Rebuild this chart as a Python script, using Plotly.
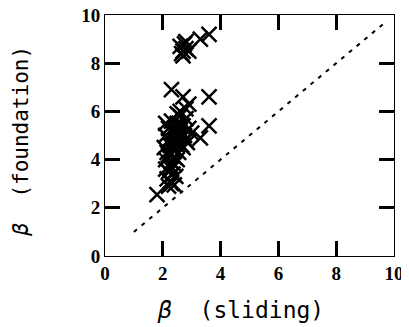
import plotly.graph_objects as go

# beta values
beta_sliding = [
    1.8,
    2.3, 2.7, 2.9, 2.8, 3.6, 3.6, 3.3,
    2.6, 2.7, 2.8, 2.65, 2.75, 2.9, 3.3, 3.6, 2.8, 2.7,
    2.1, 2.2, 2.3, 2.4, 2.5, 2.6, 2.7, 2.8, 2.9,
    2.1, 2.2, 2.35, 2.5, 2.6, 2.75, 2.85, 3.0,
    2.05, 2.15, 2.3, 2.45, 2.55, 2.7, 2.8,
    2.1, 2.2, 2.3, 2.4, 2.55, 2.65,
    2.1, 2.2, 2.3, 2.4, 2.5,
    2.15, 2.25, 2.35, 2.45,
    2.2, 2.3, 2.4, 2.3,
    2.5, 2.6, 2.7, 2.45, 2.55, 2.65, 2.35, 2.25, 2.6, 2.5,
]
beta_foundation = [
    2.55,
    6.9, 6.6, 6.3, 6.1, 6.6, 5.4, 4.9,
    8.7, 8.5, 8.6, 8.4, 8.8, 8.5, 9.0, 9.2, 8.9, 8.3,
    5.5, 5.3, 5.6, 5.2, 5.5, 5.8, 5.4, 5.7, 5.3,
    5.0, 4.8, 5.1, 4.9, 5.2, 5.0, 4.7, 5.1,
    4.5, 4.3, 4.6, 4.4, 4.7, 4.5, 4.8,
    4.0, 4.2, 3.9, 4.1, 4.3, 4.6,
    3.6, 3.5, 3.7, 3.8, 4.0,
    3.2, 3.1, 3.4, 3.3,
    2.9, 3.0, 2.95, 3.6,
    4.6, 4.9, 5.0, 5.3, 5.1, 5.4, 4.4, 4.6, 6.0, 5.9,
]
ref_x = [1, 9.7]
ref_y = [1, 9.7]
tick_vals = [0, 2, 4, 6, 8, 10]
x_title = "<i>β</i>  (sliding)"
y_title = "<i>β</i>  (foundation)"

fig = go.Figure()
fig.add_trace(go.Scatter(
    x=ref_x, y=ref_y, mode="lines",
    line=dict(color="black", width=2, dash="4px,6px"),
    showlegend=False, hoverinfo="skip",
))
fig.add_trace(go.Scatter(
    x=beta_sliding, y=beta_foundation, mode="markers",
    marker=dict(symbol="x-thin-open", size=15, color="black",
                line=dict(color="black", width=2.5)),
    showlegend=False,
))

tick_font = dict(family="Liberation Serif", size=19, color="black", weight="bold")
axis_common = dict(
    range=[0, 10], tickvals=tick_vals,
    ticks="inside", ticklen=15, tickwidth=3, tickcolor="black",
    showline=True, linecolor="black", mirror="allticks",
    gridcolor="white", zerolinecolor="white", automargin=False,
    ticklabeloverflow="allow", tickfont=tick_font,
)
# page body has an 8px margin, so the figure is 8px smaller than the window
fig.update_layout(
    width=401, height=319,
    margin=dict(l=97, r=15, t=7, b=71),
    plot_bgcolor="white", paper_bgcolor="white",
    xaxis=dict(**axis_common),
    yaxis=dict(**axis_common),
    annotations=[
        dict(text=x_title, xref="paper", yref="paper", x=0.47, y=-0.225,
             xanchor="center", yanchor="middle", showarrow=False,
             font=dict(family="DejaVu Sans Mono", size=23, color="black")),
        dict(text=y_title, xref="paper", yref="paper", x=-0.294, y=0.475,
             xanchor="center", yanchor="middle", showarrow=False, textangle=-90,
             font=dict(family="DejaVu Sans Mono", size=21, color="black")),
    ],
)
fig.write_html("out.html")
